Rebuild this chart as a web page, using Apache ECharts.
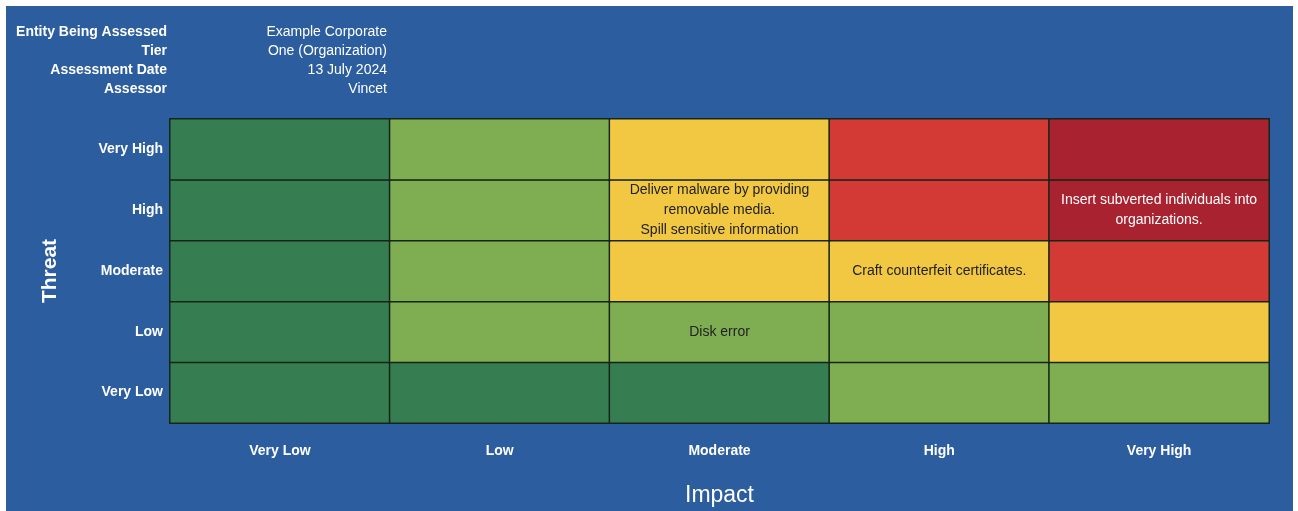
<!DOCTYPE html>
<html>
<head>
<meta charset="utf-8">
<script src="https://cdn.jsdelivr.net/npm/echarts@6/dist/echarts.min.js"></script>
<style>
  html, body { margin: 0; padding: 0; background: #fff; }
  #chart { position: absolute; left: 6px; top: 6px; width: 1287px; height: 505px; }
</style>
</head>
<body>
<div id="chart"></div>
<script>
const impactLevels = ["Very Low", "Low", "Moderate", "High", "Very High"];
const threatLevels = ["Very Low", "Low", "Moderate", "High", "Very High"];

// risk level per row (threat, bottom to top) and column (impact)
const riskVeryLow = [1, 1, 1, 2, 2];
const riskLow = [1, 2, 2, 2, 3];
const riskModerate = [1, 2, 3, 3, 4];
const riskHigh = [1, 2, 3, 4, 5];
const riskVeryHigh = [1, 2, 3, 4, 5];
const riskRows = [riskVeryLow, riskLow, riskModerate, riskHigh, riskVeryHigh];

// threat events placed in cells: [impact index, threat index, text]
const events = [
  [2, 3, "Deliver malware by providing\nremovable media.\nSpill sensitive information"],
  [4, 3, "Insert subverted individuals into\norganizations."],
  [3, 2, "Craft counterfeit certificates."],
  [2, 1, "Disk error"]
];

const headerLabels = ["Entity Being Assessed", "Tier", "Assessment Date", "Assessor"];
const headerValues = ["Example Corporate", "One (Organization)", "13 July 2024", "Vincet"];

const riskColors = ["#377d52", "#7fad52", "#f2c843", "#d33a35", "#a8222f"];

var data = [];
riskRows.forEach(function (row, y) {
  row.forEach(function (v, x) {
    var ev = events.find(function (e) { return e[0] === x && e[1] === y; });
    var item = { value: [x, y, v], text: ev ? ev[2] : "" };
    if (v === 5) item.label = { color: "#fff" }; // white text on dark red
    data.push(item);
  });
});

var graphics = [];
headerLabels.forEach(function (t, i) {
  var y = 26 + i * 19;
  graphics.push({
    type: "text", x: 161, y: y,
    style: { text: t, fill: "#fff", font: "bold 14px 'Liberation Sans', Arial", textAlign: "right", textVerticalAlign: "middle" }
  });
  graphics.push({
    type: "text", x: 381, y: y,
    style: { text: headerValues[i], fill: "#fff", font: "14px 'Liberation Sans', Arial", textAlign: "right", textVerticalAlign: "middle" }
  });
});

var chartDom = document.getElementById("chart");
var myChart = echarts.init(chartDom);

var option = {
  backgroundColor: "#2c5d9e",
  animation: false,
  textStyle: { fontFamily: "'Liberation Sans', Arial" },
  graphic: graphics,
  grid: { left: 164, top: 113, width: 1099, height: 304, outerBoundsMode: "none", containLabel: false },
  xAxis: {
    type: "category",
    data: impactLevels,
    name: "Impact",
    nameLocation: "middle",
    nameGap: 61,
    nameTextStyle: { color: "#fff", fontSize: 23, fontWeight: "normal" },
    axisLine: { show: false },
    axisTick: { show: false },
    splitArea: { show: false },
    axisLabel: { color: "#fff", fontWeight: "bold", fontSize: 14, margin: 21 }
  },
  yAxis: {
    type: "category",
    data: threatLevels,
    name: "Threat",
    nameLocation: "middle",
    nameRotate: 90,
    nameGap: 109,
    nameTextStyle: { color: "#fff", fontSize: 21, fontWeight: "bold" },
    axisLine: { show: false },
    axisTick: { show: false },
    axisLabel: { color: "#fff", fontWeight: "bold", fontSize: 14, margin: 7 }
  },
  visualMap: {
    show: false,
    type: "piecewise",
    dimension: 2,
    pieces: [
      { value: 1, color: riskColors[0] },
      { value: 2, color: riskColors[1] },
      { value: 3, color: riskColors[2] },
      { value: 4, color: riskColors[3] },
      { value: 5, color: riskColors[4] }
    ]
  },
  series: [
    {
      type: "heatmap",
      data: data,
      itemStyle: { borderColor: "#152616", borderWidth: 1.5 },
      label: {
        show: true,
        fontSize: 14,
        lineHeight: 20,
        formatter: function (p) { return p.data.text; },
        color: "#222"
      },
      emphasis: { disabled: true }
    }
  ]
};

option && myChart.setOption(option);
</script>
</body>
</html>
